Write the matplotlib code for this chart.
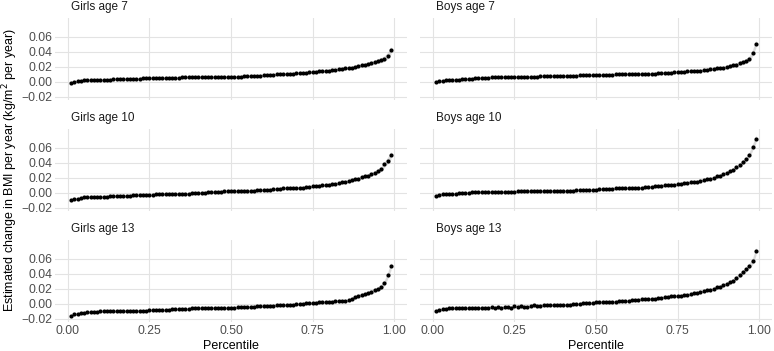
import matplotlib
matplotlib.use('Agg')
import matplotlib.pyplot as plt
import numpy as np

plt.rcParams['font.family'] = ['Liberation Sans', 'DejaVu Sans']

percentile = [round(0.01 * i, 2) for i in range(1, 100)]

girls7 = [-0.001, 0.000, 0.001, 0.001, 0.002, 0.002, 0.002, 0.003, 0.003, 0.003,
          0.003, 0.003, 0.003, 0.004, 0.004, 0.004, 0.004, 0.004, 0.004, 0.004,
          0.004, 0.004, 0.005, 0.005, 0.005, 0.005, 0.005, 0.005, 0.005, 0.005,
          0.005, 0.005, 0.005, 0.005, 0.006, 0.006, 0.006, 0.006, 0.006, 0.006,
          0.006, 0.006, 0.006, 0.006, 0.006, 0.007, 0.007, 0.007, 0.007, 0.007,
          0.007, 0.007, 0.007, 0.008, 0.008, 0.008, 0.008, 0.008, 0.008, 0.009,
          0.009, 0.009, 0.009, 0.010, 0.010, 0.010, 0.011, 0.011, 0.011, 0.012,
          0.012, 0.012, 0.012, 0.013, 0.013, 0.013, 0.014, 0.014, 0.015, 0.015,
          0.016, 0.016, 0.017, 0.017, 0.018, 0.019, 0.019, 0.020, 0.021, 0.022,
          0.023, 0.024, 0.025, 0.026, 0.028, 0.029, 0.031, 0.035, 0.042]

boys7 = [0.000, 0.001, 0.001, 0.002, 0.002, 0.003, 0.003, 0.003, 0.004, 0.004,
         0.004, 0.004, 0.005, 0.005, 0.005, 0.005, 0.005, 0.006, 0.006, 0.006,
         0.006, 0.006, 0.006, 0.007, 0.007, 0.007, 0.007, 0.007, 0.007, 0.007,
         0.007, 0.007, 0.008, 0.008, 0.008, 0.008, 0.008, 0.008, 0.008, 0.008,
         0.008, 0.008, 0.008, 0.008, 0.009, 0.009, 0.009, 0.009, 0.009, 0.009,
         0.009, 0.009, 0.009, 0.009, 0.009, 0.010, 0.010, 0.010, 0.010, 0.010,
         0.010, 0.010, 0.010, 0.011, 0.011, 0.011, 0.011, 0.011, 0.012, 0.012,
         0.012, 0.012, 0.012, 0.013, 0.013, 0.013, 0.013, 0.014, 0.014, 0.014,
         0.015, 0.015, 0.016, 0.016, 0.017, 0.017, 0.018, 0.018, 0.019, 0.020,
         0.021, 0.022, 0.023, 0.025, 0.026, 0.028, 0.031, 0.039, 0.051]

girls10 = [-0.009, -0.008, -0.008, -0.007, -0.006, -0.006, -0.006, -0.005, -0.005, -0.005,
           -0.005, -0.005, -0.004, -0.004, -0.004, -0.004, -0.004, -0.004, -0.004, -0.003,
           -0.003, -0.003, -0.003, -0.003, -0.003, -0.003, -0.002, -0.002, -0.002, -0.002,
           -0.002, -0.002, -0.001, -0.001, -0.001, -0.001, -0.001, 0.000, 0.000, 0.000,
           0.000, 0.000, 0.001, 0.001, 0.001, 0.001, 0.001, 0.002, 0.002, 0.002,
           0.002, 0.002, 0.003, 0.003, 0.003, 0.003, 0.003, 0.004, 0.004, 0.004,
           0.004, 0.004, 0.005, 0.005, 0.005, 0.006, 0.006, 0.006, 0.006, 0.007,
           0.007, 0.007, 0.008, 0.008, 0.009, 0.009, 0.009, 0.010, 0.010, 0.011,
           0.012, 0.012, 0.013, 0.014, 0.015, 0.016, 0.017, 0.018, 0.019, 0.021,
           0.022, 0.023, 0.025, 0.027, 0.029, 0.032, 0.038, 0.043, 0.050]

boys10 = [-0.004, -0.003, -0.002, -0.002, -0.001, -0.001, -0.001, 0.000, 0.000, 0.000,
          0.000, 0.001, 0.001, 0.001, 0.001, 0.001, 0.001, 0.001, 0.001, 0.001,
          0.001, 0.001, 0.001, 0.001, 0.001, 0.002, 0.002, 0.002, 0.002, 0.002,
          0.002, 0.002, 0.002, 0.002, 0.003, 0.003, 0.003, 0.003, 0.003, 0.003,
          0.003, 0.003, 0.003, 0.004, 0.004, 0.004, 0.004, 0.004, 0.004, 0.004,
          0.005, 0.005, 0.005, 0.005, 0.005, 0.006, 0.006, 0.006, 0.006, 0.006,
          0.007, 0.007, 0.007, 0.007, 0.008, 0.008, 0.008, 0.009, 0.009, 0.009,
          0.010, 0.010, 0.011, 0.011, 0.012, 0.012, 0.013, 0.013, 0.014, 0.015,
          0.015, 0.016, 0.017, 0.018, 0.019, 0.020, 0.022, 0.023, 0.025, 0.027,
          0.029, 0.031, 0.034, 0.037, 0.041, 0.045, 0.051, 0.061, 0.072]

girls13 = [-0.016, -0.014, -0.013, -0.012, -0.012, -0.011, -0.011, -0.011, -0.011, -0.010,
           -0.010, -0.010, -0.010, -0.010, -0.010, -0.010, -0.009, -0.009, -0.009, -0.009,
           -0.009, -0.009, -0.009, -0.009, -0.008, -0.008, -0.008, -0.008, -0.008, -0.008,
           -0.008, -0.007, -0.007, -0.007, -0.007, -0.007, -0.007, -0.006, -0.006, -0.006,
           -0.006, -0.006, -0.005, -0.005, -0.005, -0.005, -0.005, -0.005, -0.005, -0.005,
           -0.005, -0.004, -0.004, -0.004, -0.004, -0.004, -0.004, -0.003, -0.003, -0.003,
           -0.003, -0.003, -0.003, -0.002, -0.002, -0.002, -0.001, -0.001, -0.001, 0.000,
           0.000, 0.000, 0.001, 0.001, 0.001, 0.001, 0.002, 0.002, 0.003, 0.003,
           0.003, 0.004, 0.004, 0.004, 0.004, 0.005, 0.007, 0.009, 0.011, 0.012,
           0.013, 0.014, 0.016, 0.018, 0.020, 0.023, 0.028, 0.038, 0.050]

boys13 = [-0.010, -0.008, -0.007, -0.007, -0.006, -0.006, -0.006, -0.006, -0.006, -0.006,
          -0.006, -0.006, -0.006, -0.005, -0.005, -0.005, -0.005, -0.004, -0.005, -0.004,
          -0.005, -0.004, -0.004, -0.005, -0.003, -0.004, -0.003, -0.004, -0.004, -0.003,
          -0.002, -0.003, -0.003, -0.002, -0.002, -0.002, -0.001, -0.002, -0.001, -0.001,
          -0.001, -0.001, 0.000, 0.000, 0.000, 0.001, 0.001, 0.001, 0.001, 0.002,
          0.002, 0.002, 0.002, 0.003, 0.003, 0.003, 0.004, 0.004, 0.004, 0.004,
          0.005, 0.005, 0.005, 0.006, 0.006, 0.006, 0.007, 0.007, 0.008, 0.008,
          0.009, 0.009, 0.010, 0.010, 0.011, 0.011, 0.012, 0.012, 0.013, 0.014,
          0.015, 0.016, 0.017, 0.018, 0.019, 0.020, 0.022, 0.023, 0.025, 0.027,
          0.029, 0.031, 0.035, 0.038, 0.042, 0.046, 0.051, 0.057, 0.070]

# half width of the confidence band, shared by all panels
ci_half = [0.0014, 0.0012, 0.0011, 0.0010, 0.0009, 0.0009, 0.0008, 0.0008, 0.0008, 0.0008,
           0.0008, 0.0008, 0.0008, 0.0008, 0.0008, 0.0008, 0.0008, 0.0008, 0.0008, 0.0008,
           0.0008, 0.0008, 0.0008, 0.0008, 0.0008, 0.0008, 0.0008, 0.0008, 0.0008, 0.0008,
           0.0008, 0.0008, 0.0008, 0.0008, 0.0008, 0.0008, 0.0008, 0.0008, 0.0008, 0.0008,
           0.0008, 0.0008, 0.0008, 0.0008, 0.0008, 0.0008, 0.0008, 0.0008, 0.0008, 0.0008,
           0.0008, 0.0008, 0.0008, 0.0008, 0.0008, 0.0008, 0.0008, 0.0008, 0.0008, 0.0008,
           0.0008, 0.0008, 0.0008, 0.0008, 0.0009, 0.0009, 0.0009, 0.0009, 0.0009, 0.0010,
           0.0010, 0.0010, 0.0010, 0.0011, 0.0011, 0.0011, 0.0012, 0.0012, 0.0013, 0.0013,
           0.0014, 0.0014, 0.0015, 0.0016, 0.0016, 0.0017, 0.0018, 0.0019, 0.0020, 0.0021,
           0.0022, 0.0024, 0.0026, 0.0028, 0.0031, 0.0034, 0.0038, 0.0044, 0.0052]

panels = [
    ('Girls age 7', girls7), ('Boys age 7', boys7),
    ('Girls age 10', girls10), ('Boys age 10', boys10),
    ('Girls age 13', girls13), ('Boys age 13', boys13),
]

W, H = 774, 351
fig = plt.figure(figsize=(W / 100, H / 100), dpi=100)

lefts = [55, 420]
tops = [18, 129, 240]
pw, ph = 352, 82

x = np.array(percentile)
ci = np.array(ci_half)
for k, (title, vals) in enumerate(panels):
    r, c = divmod(k, 2)
    ax = fig.add_axes([lefts[c] / W, 1 - (tops[r] + ph) / H, pw / W, ph / H])
    y = np.array(vals)
    ax.fill_between(x, y - ci, y + ci, color='#999999', alpha=0.35, lw=0)
    ax.scatter(x, y, s=9, color='black', zorder=3, lw=0)
    ax.set_xlim(-0.039, 1.039)
    ax.set_ylim(-0.024, 0.085)
    ax.set_xticks([0, 0.25, 0.5, 0.75, 1.0])
    ax.set_yticks([-0.02, 0, 0.02, 0.04, 0.06])
    ax.grid(True, color='#e3e3e3', lw=0.8)
    ax.set_axisbelow(True)
    for s in ax.spines.values():
        s.set_visible(False)
    ax.tick_params(length=0, labelsize=8.8, labelcolor='#4d4d4d', pad=2)
    if c == 0:
        ax.set_yticklabels(['\u22120.02', '0.00', '0.02', '0.04', '0.06'])
    else:
        ax.set_yticklabels([])
    if r == 2:
        ax.set_xticklabels(['0.00', '0.25', '0.50', '0.75', '1.00'])
        ax.set_xlabel('Percentile', fontsize=9, labelpad=2)
    else:
        ax.set_xticklabels([])
    ax.text(16 / pw, 1 + 11 / ph, title, transform=ax.transAxes, fontsize=8.5,
            ha='left', va='center', color='#1a1a1a')

fig.text(10 / W, 1 - 170 / H, 'Estimated change in BMI per year (kg/m$^2$ per year)',
         rotation=90, ha='center', va='center', fontsize=9)

fig.savefig('out.png', dpi=100)
